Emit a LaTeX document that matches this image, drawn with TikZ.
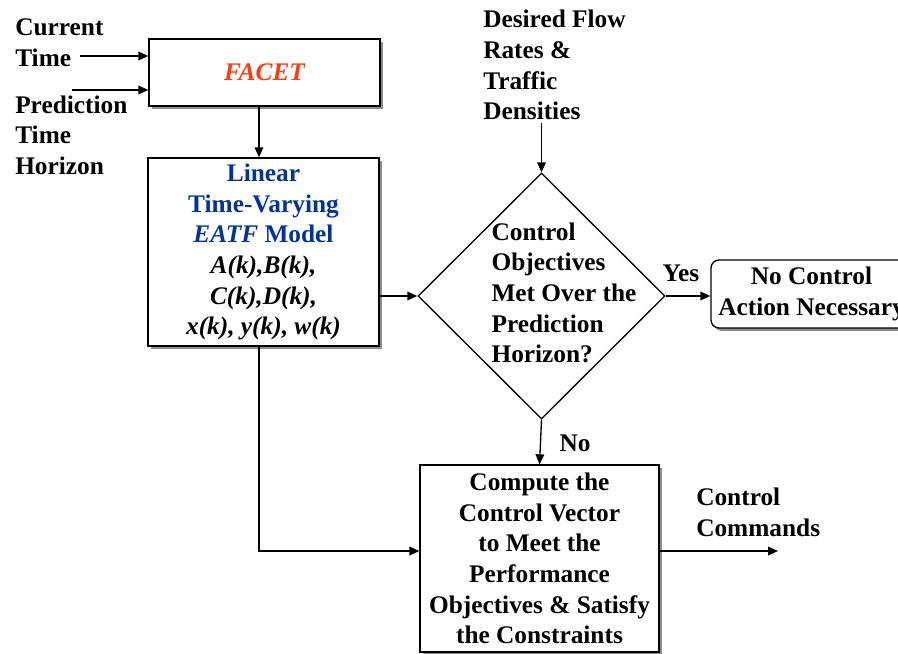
\documentclass[tikz,border=0pt]{standalone}
\usepackage{fontspec}
\setmainfont{Liberation Serif}
\usetikzlibrary{shapes.geometric,shadows,arrows.meta}

\definecolor{facetred}{RGB}{255,60,20}
\definecolor{modelblue}{RGB}{0,51,153}

\tikzset{
    blk/.style={draw, line width=1pt, fill=white, inner sep=0pt, align=center,
        drop shadow={shadow xshift=2.2pt, shadow yshift=-2.2pt, fill=black!45, opacity=1}},
    lbl/.style={inner sep=0pt, align=left, anchor=west},
    arr/.style={line width=1pt, -{Triangle[length=7.5pt,width=6.5pt]}},
}

\begin{document}
\begin{tikzpicture}[x=0.75pt, y=-0.75pt, font=\fontsize{19}{23}\selectfont\bfseries]
        \useasboundingbox (0,0) rectangle (898,653);

        % blocks
        \node[blk, minimum width=173.25pt, minimum height=50.25pt] (facet) at (264.5, 72.5)
            {\color{facetred}\itshape FACET};
        \node[blk, minimum width=173.25pt, minimum height=141pt] (model) at (263.5, 252)
            {\color{modelblue}Linear\\ \color{modelblue}Time-Varying\\
             \color{modelblue}\textit{EATF} Model\\
             \itshape A(k),B(k),\\ \itshape C(k),D(k),\\ \itshape x(k), y(k), w(k)};
        \node[draw, line width=1pt, diamond, inner sep=0pt, minimum width=185.25pt,
            minimum height=184.5pt] (dec) at (541.5, 296) {};
        \node[lbl, anchor=center] (dectxt) at (564, 293)
            {Control\\ Objectives\\ Met Over the\\ Prediction\\ Horizon?};
        \node[blk, rounded corners=6pt, minimum width=150.75pt, minimum height=51pt] (noact) at (811.5, 294)
            {No Control\\ Action Necessary};
        \node[blk, minimum width=179.25pt, minimum height=140.25pt] (comp) at (539.5, 558.5)
            {Compute the\\ Control Vector\\ to Meet the\\ Performance\\ Objectives \& Satisfy\\ the Constraints};

        % labels
        \node[lbl] (curtime) at (15, 43) {Current\\ Time};
        \node[lbl] (predtime) at (15, 135) {Prediction\\ Time\\ Horizon};
        \node[lbl] (desired) at (483, 65) {Desired Flow\\ Rates \&\\ Traffic\\ Densities};
        \node[lbl] (cmds) at (696, 512) {Control\\ Commands};
        \node[inner sep=0pt] (yes) at (681, 273) {Yes};
        \node[inner sep=0pt] (no) at (575, 443) {No};

        % connectors
        \coordinate (curin) at (80, 56);
        \coordinate (predin) at (72, 90);
        \coordinate (desin) at (541.5, 123);
        \coordinate (cmdout) at (778, 551);
        \coordinate (tap) at (259, 0);
        \draw[arr] (curin) -- (curin -| facet.west);
        \draw[arr] (predin) -- (predin -| facet.west);
        \draw[arr] (tap |- facet.south) -- (tap |- model.north);
        \draw[arr] (desin) -- (dec.north);
        \draw[arr] (model.east |- dec.west) -- (dec.west);
        \draw[arr] (dec.east) -- (dec.east -| noact.west);
        \draw[arr] (dec.south) -- (comp.north);
        \draw[arr] (tap |- model.south) |- (comp.west |- cmdout);
        \draw[arr] (comp.east |- cmdout) -- (cmdout);
\end{tikzpicture}
\end{document}
